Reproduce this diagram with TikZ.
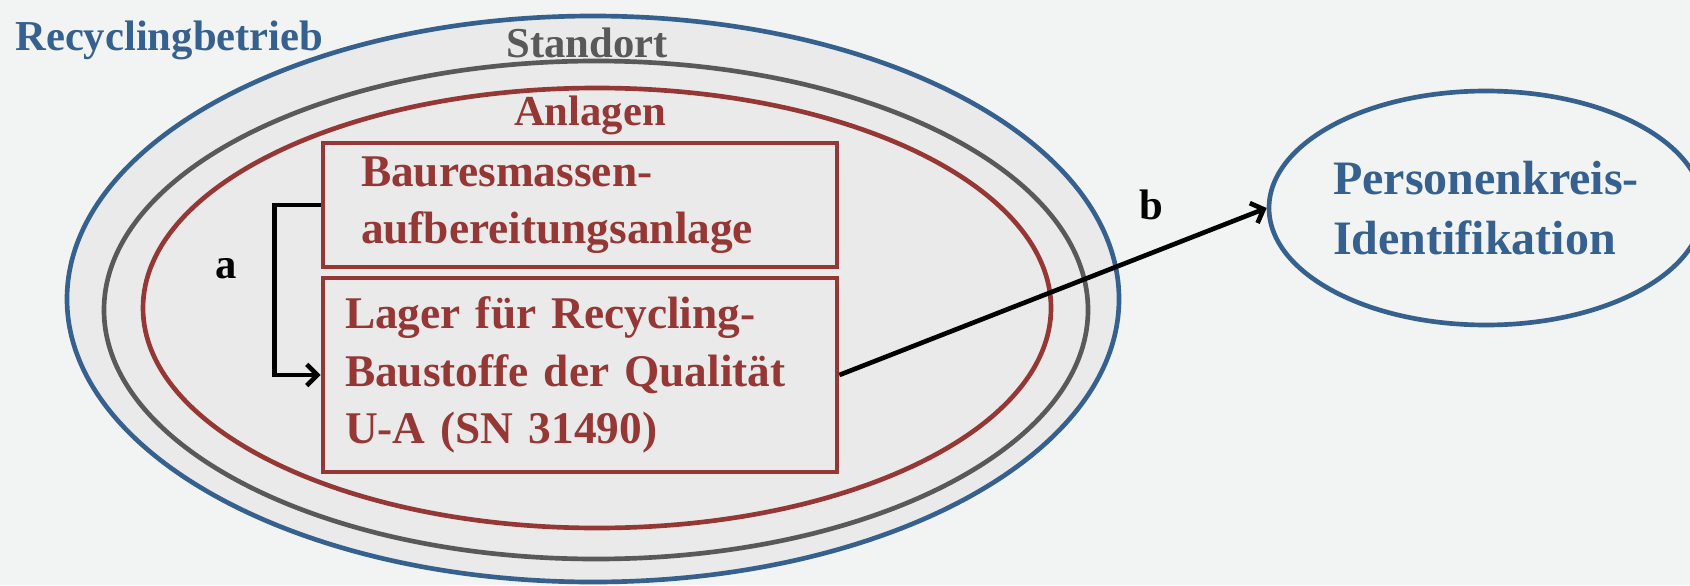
\documentclass[tikz,border=0pt]{standalone}
\usepackage{fontspec}
\setmainfont{Liberation Serif}
\usetikzlibrary{shapes.geometric,arrows.meta}
\definecolor{bg}{HTML}{F2F4F3}
\definecolor{fillg}{HTML}{EAEAEA}
\definecolor{cblue}{HTML}{36618F}
\definecolor{cred}{HTML}{953735}
\definecolor{cgrey}{HTML}{595959}
\begin{document}
\begin{tikzpicture}[x=0.75pt,y=-0.75pt,
  ring/.style={ellipse, draw, fill=fillg, line width=3.5pt, inner sep=0pt},
  boxst/.style={rectangle, draw=cred, fill=fillg, line width=3.5pt, inner ysep=0pt, text=cred, align=left,
     font=\bfseries\fontsize{34}{43}\selectfont},
  lbl/.style={inner sep=0pt, font=\bfseries\fontsize{32}{38}\selectfont},
  conn/.style={line width=3.5pt, -{Straight Barb[length=8pt,width=16pt,line width=3.5pt]}}
]
\fill[bg] (0,0) rectangle (1690,585);
\useasboundingbox (0,0) rectangle (1690,585);
\node[ring, draw=cblue, minimum width=1052*0.75pt, minimum height=566*0.75pt] (rb) at (593,299) {};
\node[ring, draw=cgrey, minimum width=984*0.75pt, minimum height=498*0.75pt] (so) at (596,310) {};
\node[ring, draw=cred, minimum width=908*0.75pt, minimum height=440*0.75pt] (an) at (597,308) {};
\node[lbl, text=cblue, anchor=west] (rbl) at (15,40) {Recyclingbetrieb};
\node[lbl, text=cgrey] (sol) at (587,43) {Standort};
\node[lbl, text=cred] (anl) at (590,115) {Anlagen};
\node[boxst, inner xsep=38*0.75pt, text width=438*0.75pt, minimum height=124*0.75pt] (ubox) at (580,205)
  {Bauresmassen-\\aufbereitungsanlage};
\node[boxst, inner xsep=22*0.75pt, text width=470*0.75pt, minimum height=194*0.75pt] (lbox) at (580,375)
  {Lager für Recycling-\\Baustoffe der Qualität\\U-A (SN 31490)};
\node[ellipse, draw=cblue, line width=3.5pt, inner sep=0pt, minimum width=434*0.75pt, minimum height=234*0.75pt,
  text=cblue, align=left, font=\bfseries\fontsize{36}{45}\selectfont] (pk) at (1486,208)
  {Personenkreis-\\Identifikation};
\draw[conn] (ubox.west) -- ++(-46,0) |- (lbox.west);
\draw[conn] (lbox.east) -- (pk.west);
\node[lbl, text=black] (la) at (226,269) {a};
\node[lbl, text=black] (lb) at (1151,205) {b};
\end{tikzpicture}
\end{document}
